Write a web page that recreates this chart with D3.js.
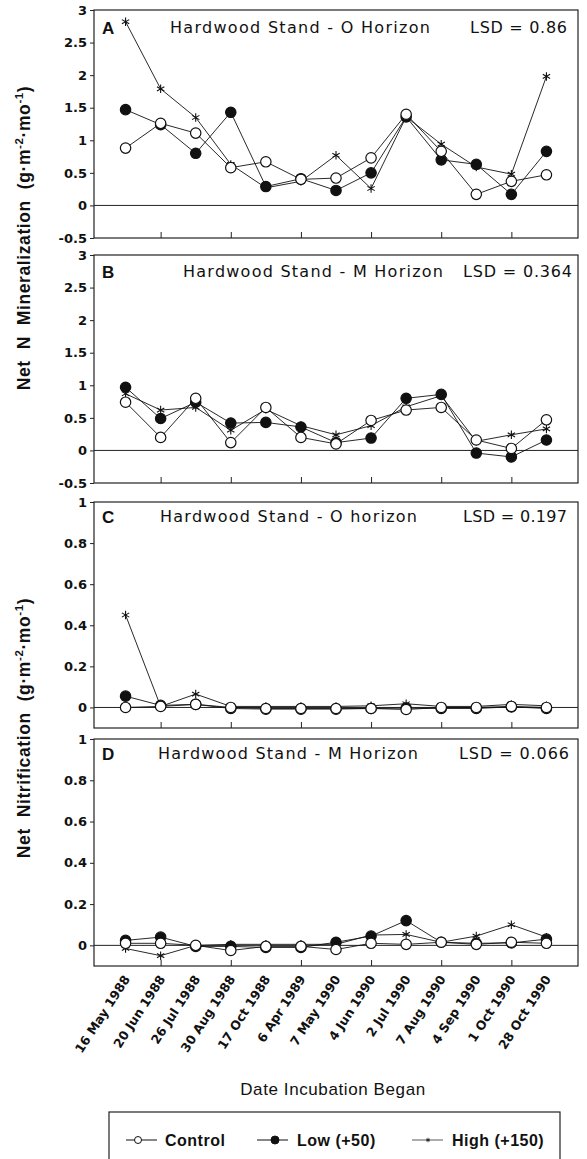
<!DOCTYPE html>
<html>
<head>
<meta charset="utf-8">
<script src="https://cdn.jsdelivr.net/npm/d3@7"></script>
<style>
body { margin: 0; background: #fff; }
text { font-family: "Liberation Sans", Arial, sans-serif; fill: #111; }
</style>
</head>
<body>
<svg id="chart" width="587" height="1159"></svg>
<script>
'use strict'

// dates when incubation began
const dates = ['16 May 1988', '20 Jun 1988', '26 Jul 1988', '30 Aug 1988', '17 Oct 1988', '6 Apr 1989',
	'7 May 1990', '4 Jun 1990', '2 Jul 1990', '7 Aug 1990', '4 Sep 1990', '1 Oct 1990', '28 Oct 1990']

const minTicks = [-0.5, 0, 0.5, 1, 1.5, 2, 2.5, 3]
const nitTicks = [0, 0.2, 0.4, 0.6, 0.8, 1]

// A - mineralization, O horizon
const aControl = [0.88, 1.26, 1.11, 0.58, 0.67, 0.40, 0.42, 0.73, 1.40, 0.83, 0.17, 0.37, 0.47]
const aLow     = [1.47, 1.24, 0.80, 1.43, 0.29, 0.41, 0.23, 0.50, 1.36, 0.70, 0.63, 0.17, 0.83]
const aHigh    = [2.82, 1.79, 1.35, 0.63, 0.27, 0.37, 0.77, 0.26, 1.36, 0.94, 0.59, 0.48, 1.98]

// B - mineralization, M horizon
const bControl = [0.74, 0.20, 0.80, 0.12, 0.66, 0.20, 0.10, 0.46, 0.62, 0.66, 0.16, 0.03, 0.47]
const bLow     = [0.97, 0.49, 0.74, 0.42, 0.43, 0.36, 0.12, 0.19, 0.80, 0.86, -0.04, -0.10, 0.16]
const bHigh    = [0.87, 0.62, 0.66, 0.31, 0.63, 0.38, 0.24, 0.38, 0.67, 0.84, 0.14, 0.24, 0.33]

// C - nitrification, O horizon
const cControl = [0.0, 0.005, 0.015, 0.0, -0.005, -0.005, -0.005, -0.005, -0.01, 0.0, 0.0, 0.005, 0.0]
const cLow     = [0.055, 0.01, 0.015, -0.005, -0.008, -0.008, -0.008, -0.005, -0.003, -0.005, -0.005, 0.003, -0.005]
const cHigh    = [0.45, 0.005, 0.065, 0.005, 0.005, 0.005, 0.005, 0.008, 0.018, 0.005, 0.005, 0.015, 0.008]

// D - nitrification, M horizon
const dControl = [0.01, 0.01, 0.0, -0.025, -0.005, -0.005, -0.02, 0.01, 0.005, 0.015, 0.005, 0.015, 0.01]
const dLow     = [0.024, 0.04, -0.005, -0.005, -0.01, -0.01, 0.015, 0.045, 0.12, 0.015, 0.01, 0.012, 0.03]
const dHigh    = [-0.015, -0.05, 0.0, 0.005, 0.005, 0.005, 0.005, 0.05, 0.053, 0.015, 0.045, 0.10, 0.04]

const panels = [
	{letter: 'A', title: 'Hardwood Stand - O Horizon', lsd: 'LSD = 0.86', domain: [-0.5, 3], range: [238, 10], ticks: minTicks,
		control: aControl, low: aLow, high: aHigh, tx: 170, tw: 260, lx: 567, lw: 97, ty: 33},
	{letter: 'B', title: 'Hardwood Stand - M Horizon', lsd: 'LSD = 0.364', domain: [-0.5, 3], range: [483, 255], ticks: minTicks,
		control: bControl, low: bLow, high: bHigh, tx: 183, tw: 260, lx: 572, lw: 109, ty: 277},
	{letter: 'C', title: 'Hardwood Stand - O horizon', lsd: 'LSD = 0.197', domain: [-0.1, 1], range: [728, 502], ticks: nitTicks,
		control: cControl, low: cLow, high: cHigh, tx: 160, tw: 257, lx: 567, lw: 104, ty: 522},
	{letter: 'D', title: 'Hardwood Stand - M Horizon', lsd: 'LSD = 0.066', domain: [-0.1, 1], range: [966, 739], ticks: nitTicks,
		control: dControl, low: dLow, high: dHigh, tx: 158, tw: 260, lx: 569, lw: 110, ty: 759}
]

const svg = d3.select('#chart')
const left = 94, right = 578

const x = d3.scalePoint()
	.domain(d3.range(dates.length))
	.range([left, right])
	.padding(0.9)

const star = d3.symbol().type(d3.symbolAsterisk).size(50)
const fmt = function(d){ return d === 0 ? '0' : String(d) }

panels.forEach(function(p){
	let y = d3.scaleLinear().domain(p.domain).range(p.range)
	let g = svg.append('g')
	let top = p.range[1], bottom = p.range[0]

	// frame
	g.append('rect')
		.attr('x', left).attr('y', top)
		.attr('width', right - left).attr('height', bottom - top)
		.attr('fill', 'none').attr('stroke', '#222').attr('stroke-width', 1.2)

	// zero line
	g.append('line')
		.attr('x1', left).attr('x2', right)
		.attr('y1', y(0)).attr('y2', y(0))
		.attr('stroke', '#222').attr('stroke-width', 1)

	// y axis
	let ya = g.append('g')
		.attr('transform', 'translate(' + left + ',0)')
		.call(d3.axisLeft(y).tickValues(p.ticks).tickFormat(fmt).tickSizeInner(4).tickSizeOuter(0).tickPadding(3))
	ya.select('.domain').remove()
	ya.selectAll('line').attr('stroke', '#222')
	ya.selectAll('text')
		.style('font-family', '"DejaVu Sans", sans-serif')
		.style('font-size', '13px').style('font-weight', 'bold')
		.attr('fill', '#111')

	// x ticks (every other date), pointing inward
	let xa = g.append('g')
		.attr('transform', 'translate(0,' + bottom + ')')
		.call(d3.axisBottom(x).tickValues(d3.range(1, dates.length, 2)).tickSizeInner(-6).tickSizeOuter(0).tickFormat(''))
	xa.select('.domain').remove()
	xa.selectAll('line').attr('stroke', '#222')

	// panel texts
	g.append('text').attr('x', left + 8).attr('y', p.ty + 1)
		.style('font-size', '17px').style('font-weight', 'bold').text(p.letter)
	g.append('text').attr('x', p.tx).attr('y', p.ty)
		.attr('textLength', p.tw).attr('lengthAdjust', 'spacing')
		.style('font-family', '"DejaVu Sans", sans-serif')
		.style('font-size', '16px').text(p.title)
	g.append('text').attr('x', p.lx - p.lw).attr('y', p.ty)
		.attr('textLength', p.lw).attr('lengthAdjust', 'spacing')
		.style('font-family', '"DejaVu Sans", sans-serif')
		.style('font-size', '16px').text(p.lsd)

	// series
	let line = d3.line().x(function(d, i){ return x(i) }).y(function(d){ return y(d) })
	let series = [
		{vals: p.high, kind: 'high'},
		{vals: p.low, kind: 'low'},
		{vals: p.control, kind: 'control'}
	]
	series.forEach(function(s){
		g.append('path').datum(s.vals)
			.attr('d', line)
			.attr('fill', 'none').attr('stroke', '#111').attr('stroke-width', 0.9)
	})
	series.forEach(function(s){
		if (s.kind === 'high'){
			g.selectAll(null).data(s.vals).enter().append('path')
				.attr('d', star)
				.attr('transform', function(d, i){ return 'translate(' + x(i) + ',' + y(d) + ')' })
				.attr('fill', 'none').attr('stroke', '#111').attr('stroke-width', 1.1)
		} else {
			g.selectAll(null).data(s.vals).enter().append('circle')
				.attr('cx', function(d, i){ return x(i) })
				.attr('cy', function(d){ return y(d) })
				.attr('r', 5.2)
				.attr('fill', s.kind === 'low' ? '#111' : '#fff')
				.attr('stroke', '#111').attr('stroke-width', 1.2)
		}
	})
})

// date labels under panel D
svg.append('g').selectAll('text').data(dates).enter().append('text')
	.attr('transform', function(d, i){ return 'translate(' + (x(i) + 5) + ',979) rotate(-57)' })
	.attr('text-anchor', 'end')
	.style('font-family', '"DejaVu Sans", sans-serif')
	.style('font-size', '12.5px').style('font-weight', 'bold')
	.text(function(d){ return d })

// y axis titles
function yTitle(cx, cy, main){
	let t = svg.append('text')
		.attr('transform', 'translate(' + cx + ',' + cy + ') rotate(-90)')
		.attr('text-anchor', 'middle')
		.style('font-size', '17.5px').style('font-weight', 'bold').style('letter-spacing', '0.6px')
		.attr('xml:space', 'preserve')
	t.append('tspan').text(main + '  (g\u00b7m')
	t.append('tspan').attr('dy', -7).style('font-size', '11.5px').text('-2')
	t.append('tspan').attr('dy', 7).text('\u00b7mo')
	t.append('tspan').attr('dy', -7).style('font-size', '11.5px').text('-1')
	t.append('tspan').attr('dy', 7).text(')')
}
yTitle(30, 238, 'Net  N  Mineralization')
yTitle(30, 728, 'Net  Nitrification')

// x axis title
svg.append('text')
	.attr('x', 333).attr('y', 1095)
	.attr('text-anchor', 'middle')
	.style('font-size', '17px').style('letter-spacing', '0.6px')
	.text('Date Incubation Began')

// legend
const legendItems = ['Control', 'Low (+50)', 'High (+150)']
const legendKinds = ['control', 'low', 'high']
const legendX = [126, 257, 412]

let lg = svg.append('g')
lg.append('rect')
	.attr('x', 109).attr('y', 1112).attr('width', 451).attr('height', 70)
	.attr('fill', 'none').attr('stroke', '#222').attr('stroke-width', 1.2)

legendItems.forEach(function(name, i){
	let x0 = legendX[i]
	let kind = legendKinds[i]
	lg.append('line')
		.attr('x1', x0).attr('x2', x0 + 31)
		.attr('y1', 1140).attr('y2', 1140)
		.attr('stroke', '#111').attr('stroke-width', kind === 'high' ? 0.7 : 1)
	if (kind === 'high'){
		lg.append('path').attr('d', d3.symbol().type(d3.symbolAsterisk).size(14)())
			.attr('transform', 'translate(' + (x0 + 16) + ',1140)')
			.attr('fill', 'none').attr('stroke', '#111').attr('stroke-width', 0.8)
	} else {
		lg.append('circle')
			.attr('cx', x0 + (kind === 'low' ? 18 : 12)).attr('cy', 1140).attr('r', kind === 'low' ? 4 : 3.5)
			.attr('fill', kind === 'low' ? '#111' : '#fff')
			.attr('stroke', '#111').attr('stroke-width', 1)
	}
	lg.append('text')
		.attr('x', x0 + (kind === 'control' ? 39 : 40)).attr('y', 1146)
		.style('font-size', '16px').style('font-weight', 'bold').style('letter-spacing', '0.5px')
		.text(name)
})
</script>
</body>
</html>
